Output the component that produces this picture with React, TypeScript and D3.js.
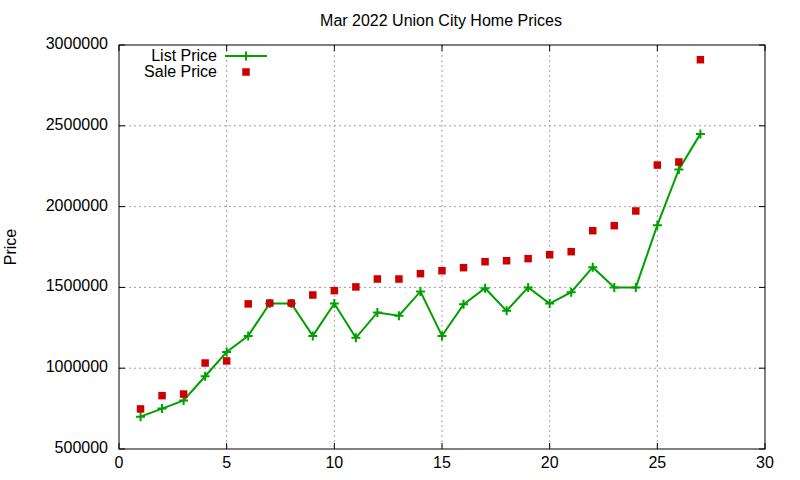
import * as d3 from "d3";

// ----- Data ----------------------------------------------------------------
const days = [
  1, 2, 3, 4, 5, 6, 7, 8, 9, 10, 11, 12, 13, 14, 15, 16, 17, 18, 19, 20, 21,
  22, 23, 24, 25, 26, 27,
];

const listPrice = [
  700000, 750000, 800000, 950000, 1100000, 1200000, 1400000, 1400000, 1200000,
  1400000, 1188000, 1345000, 1325000, 1475000, 1200000, 1395000, 1495000,
  1355000, 1500000, 1400000, 1470000, 1625000, 1500000, 1500000, 1885000,
  2230000, 2450000,
];

const salePrice = [
  748000, 830000, 840000, 1032000, 1045000, 1398000, 1403000, 1403000, 1453000,
  1480000, 1503000, 1552000, 1552000, 1585000, 1603000, 1622000, 1659000,
  1665000, 1678000, 1702000, 1721000, 1851000, 1882000, 1973000, 2257000,
  2276000, 2909000,
];

const xTicks = [0, 5, 10, 15, 20, 25, 30];
const yTicks = [500000, 1000000, 1500000, 2000000, 2500000, 3000000];

const title = "Mar 2022 Union City Home Prices";
const yLabel = "Price";
const seriesNames = ["List Price", "Sale Price"];

// ----- Layout --------------------------------------------------------------
const W = 800;
const H = 480;
const plot = { left: 119, right: 765, top: 45, bottom: 449 };
const GREEN = "#00a000";
const RED = "#cc0000";
const FONT = "'Liberation Sans', Arial, Helvetica, sans-serif";

const App = () => {
  const x = d3.scaleLinear().domain([0, 30]).range([plot.left, plot.right]);
  const y = d3
    .scaleLinear()
    .domain([500000, 3000000])
    .range([plot.bottom, plot.top]);

  const listData = days.map((d, i) => ({ d, v: listPrice[i] }));
  const saleData = days.map((d, i) => ({ d, v: salePrice[i] }));

  const line = d3
    .line<{ d: number; v: number }>()
    .x((p) => x(p.d))
    .y((p) => y(p.v));

  const tick = 6;
  const plus = (cx: number, cy: number, k: string) => (
    <path
      key={k}
      d={`M${cx - 4.5},${cy}H${cx + 4.5}M${cx},${cy - 4.5}V${cy + 4.5}`}
      stroke={GREEN}
      strokeWidth={2}
      fill="none"
    />
  );

  const legendX = 217;
  const legendLineX0 = 225;
  const legendLineX1 = 267;
  const legendY0 = 56;
  const legendY1 = 72;

  return (
    <svg
      width={W}
      height={H}
      style={{ position: "absolute", left: 0, top: 0, background: "#fff" }}
      fontFamily={FONT}
    >
      <rect width={W} height={H} fill="#fff" />

      {/* grid */}
      <g stroke="#a0a0a0" strokeWidth={1} strokeDasharray="2,3">
        {xTicks
          .filter((t) => t > 0 && t < 30)
          .map((t) => (
            <line
              key={`gx${t}`}
              x1={x(t)}
              x2={x(t)}
              y1={plot.top}
              y2={plot.bottom}
            />
          ))}
        {yTicks
          .filter((t) => t > 500000 && t < 3000000)
          .map((t) => (
            <line
              key={`gy${t}`}
              x1={plot.left}
              x2={plot.right}
              y1={y(t)}
              y2={y(t)}
            />
          ))}
      </g>

      {/* ticks (mirrored on all sides) */}
      <g stroke="#000" strokeWidth={1}>
        {xTicks.map((t) => (
          <g key={`tx${t}`}>
            <line x1={x(t)} x2={x(t)} y1={plot.bottom} y2={plot.bottom - tick} />
            <line x1={x(t)} x2={x(t)} y1={plot.top} y2={plot.top + tick} />
          </g>
        ))}
        {yTicks.map((t) => (
          <g key={`ty${t}`}>
            <line x1={plot.left} x2={plot.left + tick} y1={y(t)} y2={y(t)} />
            <line x1={plot.right} x2={plot.right - tick} y1={y(t)} y2={y(t)} />
          </g>
        ))}
      </g>

      {/* tick labels */}
      <g fontSize={16} fill="#000">
        {xTicks.map((t) => (
          <text key={`lx${t}`} x={x(t)} y={plot.bottom + 19} textAnchor="middle">
            {t}
          </text>
        ))}
        {yTicks.map((t) => (
          <text key={`ly${t}`} x={108} y={y(t) + 4} textAnchor="end">
            {t}
          </text>
        ))}
      </g>

      {/* series */}
      <path
        d={line(listData) ?? ""}
        fill="none"
        stroke={GREEN}
        strokeWidth={2}
      />
      {listData.map((p, i) => plus(x(p.d), y(p.v), `lp${i}`))}
      {saleData.map((p, i) => (
        <rect
          key={`sp${i}`}
          x={x(p.d) - 3.75}
          y={y(p.v) - 3.75}
          width={7.5}
          height={7.5}
          fill={RED}
        />
      ))}

      {/* frame */}
      <rect
        x={plot.left}
        y={plot.top}
        width={plot.right - plot.left}
        height={plot.bottom - plot.top}
        fill="none"
        stroke="#000"
        strokeWidth={1}
      />

      {/* legend */}
      <g fontSize={16} fill="#000">
        <text x={legendX} y={legendY0 + 5} textAnchor="end">
          {seriesNames[0]}
        </text>
        <text x={legendX} y={legendY1 + 5} textAnchor="end">
          {seriesNames[1]}
        </text>
      </g>
      <line
        x1={legendLineX0}
        x2={legendLineX1}
        y1={legendY0}
        y2={legendY0}
        stroke={GREEN}
        strokeWidth={2}
      />
      {plus((legendLineX0 + legendLineX1) / 2, legendY0, "legplus")}
      <rect
        x={(legendLineX0 + legendLineX1) / 2 - 3.75}
        y={legendY1 - 3.75}
        width={7.5}
        height={7.5}
        fill={RED}
      />

      {/* title & axis label */}
      <text x={441} y={26} textAnchor="middle" fontSize={16} fill="#000">
        {title}
      </text>
      <text
        transform={`translate(16,247) rotate(-90)`}
        textAnchor="middle"
        fontSize={16}
        fill="#000"
      >
        {yLabel}
      </text>
    </svg>
  );
};

export default App;
